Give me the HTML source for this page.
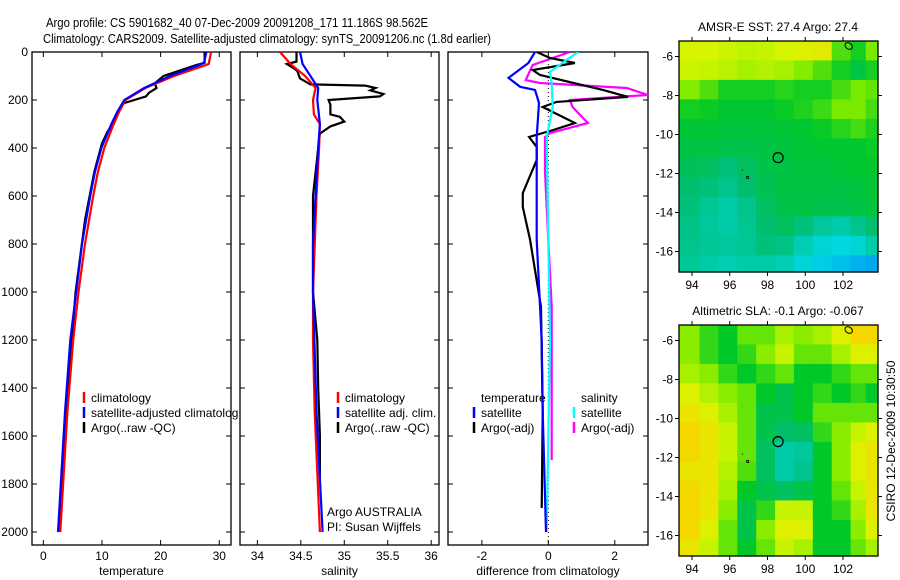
<!DOCTYPE html>
<html><head><meta charset="utf-8"><style>
html,body{margin:0;padding:0;background:#fff}
svg{display:block;font-family:"Liberation Sans",sans-serif;font-size:12px}
</style></head><body>
<svg id="fig" width="900" height="580" viewBox="0 0 900 580" xmlns="http://www.w3.org/2000/svg">
<defs>
<clipPath id="clipP1"><rect x="32" y="52" width="206" height="493"/></clipPath>
<clipPath id="clipP3"><rect x="448" y="52" width="201" height="493"/></clipPath>
</defs>
<text x="46" y="27" textLength="382" lengthAdjust="spacingAndGlyphs" font-size="13">Argo profile: CS 5901682_40 07-Dec-2009 20091208_171 11.186S 98.562E</text>
<text x="43" y="43" textLength="448" lengthAdjust="spacingAndGlyphs" font-size="13">Climatology: CARS2009. Satellite-adjusted climatology: synTS_20091206.nc (1.8d earlier)</text>
<g id="layer"></g>
</svg>
<script>
// ---------- profile data ----------
const tempClimDepth = [0,50,100,150,200,250,300,400,500,600,800,1000,1200,1500,2000];
const tempClim      = [28.6,28.2,22.3,17.4,14.0,12.9,12.0,10.4,9.3,8.5,7.1,6.0,5.1,4.1,2.9];
const tempSatDepth  = [0,45,55,100,150,200,250,300,400,500,600,800,1000,1200,1500,2000];
const tempSat       = [27.8,27.4,26.5,21.6,17.2,13.8,12.6,11.6,9.9,8.8,8.0,6.6,5.6,4.6,3.7,2.5];
const tempArgoDepth = [0,45,55,100,130,150,170,185,200,215,260,300,330,380,500,700,1000,1500,2000];
const tempArgo      = [27.5,27.5,26.0,20.5,19.0,19.3,18.0,17.5,15.5,13.5,12.5,12.0,11.0,10.0,8.7,7.1,5.5,3.9,2.6];

const salClimDepth = [0,50,100,150,200,260,300,400,600,1000,1200,1500,2000];
const salClim      = [34.26,34.38,34.55,34.67,34.64,34.65,34.72,34.71,34.68,34.64,34.64,34.66,34.72];
const salSatDepth  = [0,50,100,150,200,300,400,600,800,1000,1500,2000];
const salSat       = [34.49,34.52,34.61,34.70,34.69,34.72,34.70,34.67,34.64,34.64,34.68,34.75];
const salArgoDepth = [0,40,50,70,80,110,135,140,150,160,175,185,200,220,260,270,290,310,340,400,600,1000,1200,1400,1600,1800];
const salArgo      = [34.45,34.45,34.34,34.43,34.46,34.49,34.61,35.24,35.36,35.30,35.45,35.41,34.82,34.84,34.84,34.95,35.00,34.84,34.72,34.70,34.64,34.64,34.69,34.70,34.72,34.72];

const dTSatDepth  = [0,46,108,145,158,212,354,505,783,1200,1500,2000];
const dTSat       = [-0.40,-0.60,-1.20,-0.85,-0.40,-0.28,-0.35,-0.35,-0.35,-0.20,-0.17,-0.07];
const dTArgoDepth = [0,25,46,75,96,158,187,208,229,296,325,354,396,450,588,646,783,1062,1500,1900];
const dTArgo      = [-0.35,0.05,0.80,-0.47,-0.25,1.64,2.40,0.25,-0.17,0.80,0.15,-0.58,-0.35,-0.35,-0.77,-0.77,-0.55,-0.22,-0.17,-0.20];
const dSSatDepth  = [0,33,83,129,229,354,783,1200,2000];
const dSSat       = [0.90,0.55,0.05,0.10,0.13,-0.05,0.00,0.05,-0.05];
const dSArgoDepth = [0,54,117,129,150,179,200,229,296,338,354,500,783,1062,1400,1700];
const dSArgo      = [0.65,-0.47,-0.68,-0.25,2.36,3.00,0.65,0.73,1.19,0.05,-0.10,-0.10,0.00,0.10,0.10,0.10];

const depthTicks = [0,200,400,600,800,1000,1200,1400,1600,1800,2000];
const tempTicks = [0,10,20,30];
const salTicks = [34,34.5,35,35.5,36];
const diffTicks = [-2,0,2];

// ---------- map data (rows lat -5.7..-16.7, cols lon 93.9..103.4) ----------
const mapLons = [93.9,94.9,95.9,96.9,97.9,98.9,99.9,100.9,101.9,102.9,103.4];
const mapLats = [-5.7,-6.7,-7.7,-8.7,-9.7,-10.7,-11.7,-12.7,-13.7,-14.7,-15.7,-16.7];
const sstGrid = [
 [0.78,0.78,0.76,0.74,0.75,0.78,0.80,0.82,0.58,0.52,0.62],
 [0.76,0.75,0.73,0.70,0.72,0.70,0.64,0.58,0.52,0.46,0.52],
 [0.64,0.58,0.52,0.52,0.52,0.54,0.52,0.52,0.57,0.62,0.60],
 [0.52,0.51,0.49,0.49,0.49,0.51,0.53,0.56,0.62,0.62,0.57],
 [0.48,0.48,0.47,0.47,0.47,0.48,0.49,0.51,0.54,0.57,0.53],
 [0.46,0.46,0.45,0.45,0.46,0.47,0.48,0.49,0.49,0.49,0.51],
 [0.43,0.42,0.38,0.42,0.45,0.46,0.47,0.47,0.48,0.49,0.49],
 [0.40,0.38,0.35,0.40,0.44,0.46,0.46,0.46,0.46,0.47,0.48],
 [0.38,0.33,0.30,0.35,0.42,0.45,0.46,0.45,0.45,0.46,0.47],
 [0.36,0.32,0.30,0.34,0.40,0.42,0.38,0.32,0.30,0.35,0.40],
 [0.35,0.33,0.32,0.34,0.38,0.36,0.28,0.22,0.20,0.22,0.30],
 [0.33,0.30,0.28,0.30,0.30,0.28,0.22,0.18,0.15,0.12,0.10]];
const slaGrid = [
 [0.65,0.55,0.50,0.60,0.60,0.70,0.65,0.70,0.80,0.90,0.90],
 [0.65,0.55,0.50,0.55,0.65,0.75,0.60,0.60,0.70,0.80,0.80],
 [0.70,0.65,0.55,0.50,0.55,0.60,0.50,0.50,0.55,0.60,0.60],
 [0.80,0.72,0.65,0.60,0.50,0.45,0.50,0.55,0.50,0.55,0.50],
 [0.85,0.80,0.70,0.60,0.45,0.45,0.50,0.60,0.60,0.60,0.60],
 [0.90,0.85,0.75,0.60,0.45,0.40,0.42,0.55,0.65,0.75,0.80],
 [0.90,0.85,0.75,0.60,0.42,0.30,0.32,0.50,0.65,0.80,0.85],
 [0.85,0.85,0.72,0.58,0.42,0.30,0.35,0.50,0.65,0.80,0.85],
 [0.90,0.85,0.70,0.50,0.45,0.42,0.45,0.50,0.60,0.75,0.85],
 [0.90,0.85,0.65,0.45,0.55,0.75,0.75,0.50,0.55,0.70,0.85],
 [0.90,0.80,0.60,0.45,0.65,0.80,0.80,0.50,0.50,0.65,0.80],
 [0.85,0.75,0.60,0.50,0.60,0.75,0.70,0.50,0.50,0.60,0.70]];
const mapLonTicks = [94,96,98,100,102];
const mapLatTicks = [-6,-8,-10,-12,-14,-16];
const argoPos = [98.562,-11.186];

// ---------- helpers ----------
const NS = "http://www.w3.org/2000/svg";
const layer = document.getElementById('layer');
function mk(tag, attrs, parent){
  const e = document.createElementNS(NS, tag);
  for (const k in attrs) e.setAttribute(k, attrs[k]);
  (parent||layer).appendChild(e);
  return e;
}
const yTop=52, yBot=545, dMax=(545-52)/0.24;
function yD(d){ return yTop + d*(yBot-yTop)/dMax; }
function scaleX(lo,hi,x0,x1){ return v => x0 + (v-lo)*(x1-x0)/(hi-lo); }

const panels = [
 {x0:32,x1:231,lo:-1.93,hi:32.0,ticks:tempTicks,title:'temperature',name:'temperature'},
 {x0:240,x1:439,lo:33.80,hi:36.09,ticks:salTicks,title:'salinity',name:'salinity'},
 {x0:448,x1:648,lo:-3.02,hi:3.0,ticks:diffTicks,title:'difference from climatology',name:'difference'}
];
panels.forEach((p,i)=>{
  p.sx = scaleX(p.lo,p.hi,p.x0,p.x1);
  const r = mk('rect',{x:p.x0,y:yTop,width:p.x1-p.x0,height:yBot-yTop,fill:'#fff',stroke:'#000','stroke-width':1.3});
  
  
  depthTicks.forEach(d=>{
    const y=yD(d);
    mk('line',{x1:p.x0,x2:p.x0+5,y1:y,y2:y,stroke:'#000'});
    mk('line',{x1:p.x1,x2:p.x1-5,y1:y,y2:y,stroke:'#000'});
  });
  p.ticks.forEach(v=>{
    const x=p.sx(v);
    mk('line',{x1:x,x2:x,y1:yBot,y2:yBot-5,stroke:'#000'});
    mk('line',{x1:x,x2:x,y1:yTop,y2:yTop+5,stroke:'#000'});
    const t = mk('text',{x:x,y:560,'text-anchor':'middle'});
    t.textContent = String(v);
    
    
  });
  const tt = mk('text',{x:(p.x0+p.x1)/2,y:575,'text-anchor':'middle'});
  tt.textContent = p.title;
  
  
});
depthTicks.forEach(d=>{
  const t = mk('text',{x:28,y:yD(d)+4,'text-anchor':'end'});
  t.textContent = String(d);
  
  
});

function line(p, vals, depths, color, name, clip){
  const pts = vals.map((v,i)=>p.sx(v).toFixed(1)+','+yD(depths[i]).toFixed(1)).join(' ');
  const attrs = {points:pts,fill:'none',stroke:color,'stroke-width':2.2,'stroke-linejoin':'miter'};
  if (clip) attrs['clip-path']='url(#'+clip+')';
  const e = mk('polyline',attrs);
  
  
}
line(panels[0], tempArgo, tempArgoDepth, '#000', 'temp-argo-line');
line(panels[0], tempClim, tempClimDepth, '#f00', 'temp-climatology-line');
line(panels[0], tempSat, tempSatDepth, '#00f', 'temp-satellite-line');
line(panels[1], salArgo, salArgoDepth, '#000', 'sal-argo-line');
line(panels[1], salClim, salClimDepth, '#f00', 'sal-climatology-line');
line(panels[1], salSat, salSatDepth, '#00f', 'sal-satellite-line');
(function(){
  const x=panels[2].sx(0);
  const z = mk('line',{x1:x,x2:x,y1:yD(0),y2:yD(2030),stroke:'#000','stroke-dasharray':'1,3'});
  
  
})();
line(panels[2], dSArgo, dSArgoDepth, '#f0f', 'sal-argo-diff-line','clipP3');
line(panels[2], dTArgo, dTArgoDepth, '#000', 'temp-argo-diff-line','clipP3');
line(panels[2], dSSat, dSSatDepth, '#0ff', 'sal-satellite-diff-line','clipP3');
line(panels[2], dTSat, dTSatDepth, '#00f', 'temp-satellite-diff-line','clipP3');

function legend(x, y, color, label, name, clip){
  const b = mk('line',{x1:x,x2:x,y1:y-10,y2:y+1,stroke:color,'stroke-width':2.5});
  
  
  const a = {x:x+7,y:y};
  if (clip) a['clip-path']='url(#'+clip+')';
  const t = mk('text',a);
  t.textContent = label;
  
  
}
legend(84,402,'#f00','climatology','legend-temp-climatology');
legend(84,417,'#00f','satellite-adjusted climatology','legend-temp-satellite','clipP1');
legend(84,432,'#000','Argo(..raw -QC)','legend-temp-argo');
legend(338,402,'#f00','climatology','legend-sal-climatology');
legend(338,417,'#00f','satellite adj. clim.','legend-sal-satellite');
legend(338,432,'#000','Argo(..raw -QC)','legend-sal-argo');
(function(){
  const t1 = mk('text',{x:481,y:402}); t1.textContent='temperature';
   
  const t2 = mk('text',{x:581,y:402}); t2.textContent='salinity';
   
  const a1 = mk('text',{x:327,y:516}); a1.textContent='Argo AUSTRALIA';
   
  const a2 = mk('text',{x:327,y:531}); a2.textContent='PI: Susan Wijffels';
   
})();
legend(474,417,'#00f','satellite','legend-diff-temp-satellite');
legend(474,432,'#000','Argo(-adj)','legend-diff-temp-argo');
legend(574,417,'#0ff','satellite','legend-diff-sal-satellite');
legend(574,432,'#f0f','Argo(-adj)','legend-diff-sal-argo');

// ---------- maps ----------
const cmapStops = [[0,[0,120,255]],[0.2,[0,215,225]],[0.4,[0,190,110]],[0.5,[0,200,40]],[0.62,[120,235,0]],[0.78,[215,245,0]],[0.9,[245,215,0]],[1,[250,175,0]]];
function cmap(v){
  for (let i=1;i<cmapStops.length;i++){
    if (v<=cmapStops[i][0]){
      const [a,ca]=cmapStops[i-1],[b,cb]=cmapStops[i];
      const t=(v-a)/(b-a);
      return 'rgb('+ca.map((c,k)=>Math.round(c+(cb[k]-c)*t)).join(',')+')';
    }
  }
  return 'rgb(250,175,0)';
}
function drawMap(top, grid, title, name){
  const left=679, right=878, h=231, bottom=top+h;
  const sx = scaleX(94,102,692,843);
  const lat6 = top+15.5;
  const sy = v => lat6 + (-6 - v)*19.5;
  const g = mk('g',{});
  
  
  const lonEdges = [93.3,94.4,95.4,96.4,97.4,98.4,99.4,100.4,101.4,102.4,103.2,103.9];
  grid.forEach((row,r)=>{
    row.forEach((v,c)=>{
      const y0 = r===0? top : sy(mapLats[r]+0.5);
      const y1 = r===grid.length-1? bottom : sy(mapLats[r]-0.5);
      const x0 = Math.max(left, sx(lonEdges[c])), x1 = Math.min(right, sx(lonEdges[c+1]));
      const cell = mk('rect',{x:x0.toFixed(1),y:y0.toFixed(1),width:(x1-x0+0.6).toFixed(1),height:(y1-y0+0.6).toFixed(1),fill:cmap(v)},g);
      
      
    });
  });
  mk('rect',{x:left,y:top,width:right-left,height:h,fill:'none',stroke:'#000','stroke-width':1.3},g);
  mapLonTicks.forEach(v=>{
    const x=sx(v);
    mk('line',{x1:x,x2:x,y1:top,y2:top-4,stroke:'#000'},g);
    mk('line',{x1:x,x2:x,y1:bottom,y2:bottom+4,stroke:'#000'},g);
    const t=mk('text',{x:x,y:bottom+17,'text-anchor':'middle'},g);
    t.textContent=String(v);
    
    
  });
  mapLatTicks.forEach(v=>{
    const y=sy(v);
    mk('line',{x1:left,x2:left-4,y1:y,y2:y,stroke:'#000'},g);
    mk('line',{x1:right,x2:right+4,y1:y,y2:y,stroke:'#000'},g);
    const t=mk('text',{x:673,y:y+4,'text-anchor':'end'},g);
    t.textContent=String(v);
    
    
  });
  const c = mk('circle',{cx:sx(argoPos[0]),cy:sy(argoPos[1]),r:5,fill:'none',stroke:'#000','stroke-width':1.2},g);
  
  
  mk('rect',{x:sx(96.95)-1,y:sy(-12.2)-1,width:2,height:2,fill:'none',stroke:'#000','stroke-width':0.8},g);
  mk('rect',{x:sx(96.65),y:sy(-11.8),width:1,height:1,fill:'#000'},g);
  mk('ellipse',{cx:sx(102.3),cy:top+5,rx:4,ry:3,fill:'none',stroke:'#000','stroke-width':1,transform:'rotate(35 '+sx(102.3)+' '+(top+5)+')'},g);
  const tt=mk('text',{x:778,y:top-10,'text-anchor':'middle'});
  tt.textContent=title;
  
  
}
drawMap(41, sstGrid, 'AMSR-E SST: 27.4 Argo: 27.4', 'sst');
drawMap(325, slaGrid, 'Altimetric SLA: -0.1 Argo: -0.067', 'sla');
(function(){
  const t = mk('text',{x:0,y:0,'text-anchor':'middle',transform:'translate(895,441) rotate(-90)'});
  t.textContent='CSIRO 12-Dec-2009 10:30:50';
  
  
})();
</script>
</body></html>
